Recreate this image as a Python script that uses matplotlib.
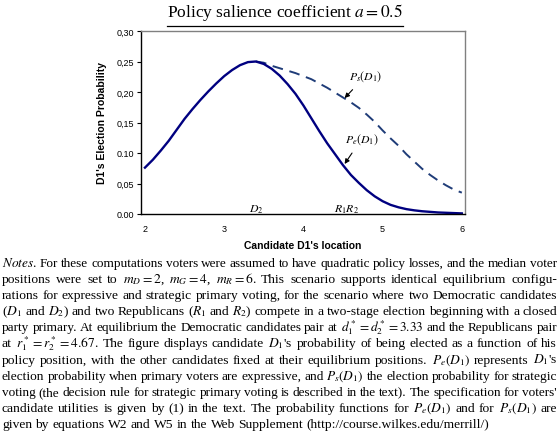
import numpy as np
import matplotlib
matplotlib.use("Agg")
import matplotlib.pyplot as plt
from matplotlib.lines import Line2D

plt.rcParams['mathtext.fontset'] = 'stix'

# candidate D1 location and election probabilities
loc = [2.0, 2.1, 2.2, 2.3, 2.4, 2.5, 2.6, 2.7, 2.8, 2.9, 3.0, 3.1, 3.2, 3.3, 3.4,
       3.5, 3.6, 3.7, 3.8, 3.9, 4.0, 4.1, 4.2, 4.3, 4.4, 4.5, 4.6, 4.7, 4.8, 4.9,
       5.0, 5.1, 5.2, 5.3, 5.4, 5.5, 5.6, 5.7, 5.8, 5.9, 6.0]
pe = [0.076, 0.089, 0.104, 0.120, 0.138, 0.156, 0.172, 0.187, 0.201, 0.214,
      0.226, 0.236, 0.244, 0.249, 0.250, 0.246, 0.238, 0.227, 0.213, 0.197,
      0.178, 0.157, 0.136, 0.116, 0.098, 0.080, 0.064, 0.051, 0.039, 0.029,
      0.021, 0.015, 0.011, 0.008, 0.006, 0.0045, 0.0035, 0.0025, 0.002, 0.0015, 0.001]
loc_s = [3.4, 3.5, 3.6, 3.7, 3.8, 3.9, 4.0, 4.1, 4.2, 4.3, 4.4, 4.5, 4.6, 4.7,
         4.8, 4.9, 5.0, 5.1, 5.2, 5.3, 5.4, 5.5, 5.6, 5.7, 5.8, 5.9, 6.0]
ps = [0.250, 0.248, 0.243, 0.239, 0.235, 0.231, 0.226, 0.221, 0.214, 0.207,
      0.199, 0.191, 0.183, 0.174, 0.163, 0.151, 0.137, 0.124, 0.112, 0.098,
      0.086, 0.074, 0.064, 0.055, 0.047, 0.040, 0.035]

xticks = [2, 3, 4, 5, 6]
yticks = [0.0, 0.05, 0.10, 0.15, 0.20, 0.25, 0.30]
ylabels = ['0.00', '0,05', '0.10', '0,15', '0,20', '0,25', '0,30']

notes = [
    r"$\mathit{Notes}$. For these computations voters were assumed to have quadratic policy losses, and the median voter",
    r"positions were set to $m_D=2$, $m_G=4$, $m_R=6$. This scenario supports identical equilibrium configu-",
    r"rations for expressive and strategic primary voting, for the scenario where two Democratic candidates",
    r"($D_1$ and $D_2$) and two Republicans ($R_1$ and $R_2$) compete in a two-stage election beginning with a closed",
    r"party primary. At equilibrium the Democratic candidates pair at $d_1^*=d_2^*=3.33$ and the Republicans pair",
    r"at $r_1^*=r_2^*=4.67$. The figure displays candidate $D_1$'s probability of being elected as a function of his",
    r"policy position, with the other candidates fixed at their equilibrium positions. $P_e(D_1)$ represents $D_1$'s",
    r"election probability when primary voters are expressive, and $P_s(D_1)$ the election probability for strategic",
    r"voting (the decision rule for strategic primary voting is described in the text). The specification for voters'",
    r"candidate utilities is given by (1) in the text. The probability functions for $P_e(D_1)$ and for $P_s(D_1)$ are",
    r"given by equations W2 and W5 in the Web Supplement (http://course.wilkes.edu/merrill/)",
]

W, H = 559, 435
fig = plt.figure(figsize=(W / 100, H / 100), dpi=100)
ax = fig.add_axes([141 / W, 1 - 215 / H, 324 / W, 183 / H])

ax.plot(loc_s, ps, color='#1f3c78', lw=1.4, dashes=(5.5, 3.5))
ax.plot(loc, pe, color='#000080', lw=1.7)

ax.set_xlim(1.95, 6.04)
ax.set_ylim(0, 0.30)
ax.set_xticks(xticks)
ax.set_xticklabels([str(t) for t in xticks])
ax.set_yticks(yticks)
ax.set_yticklabels(ylabels)
ax.tick_params(axis='x', length=0, pad=7, labelsize=6.5)
ax.tick_params(axis='y', length=3, width=0.8, pad=2, labelsize=6.5)
for lab in ax.get_xticklabels() + ax.get_yticklabels():
    lab.set_family('Liberation Sans')
for s in ['top', 'right']:
    ax.spines[s].set_color('#808080')
    ax.spines[s].set_linewidth(1.0)
for s in ['left', 'bottom']:
    ax.spines[s].set_color('black')
    ax.spines[s].set_linewidth(1.0)

ax.set_ylabel("D1's Election Probability", family='Liberation Sans',
              fontweight='bold', fontsize=7.5, labelpad=7)
ax.set_xlabel("Candidate D1's location", family='Liberation Sans',
              fontweight='bold', fontsize=7.5, labelpad=5)

ax.annotate(r"$P_s(D_1)$", xy=(4.52, 0.190), xytext=(4.79, 0.227),
            ha='center', va='center', fontsize=8.5,
            arrowprops=dict(arrowstyle='-|>', color='black', lw=0.8,
                            mutation_scale=7, shrinkA=4, shrinkB=0))
ax.annotate(r"$P_e(D_1)$", xy=(4.52, 0.082), xytext=(4.74, 0.124),
            ha='center', va='center', fontsize=8.5,
            arrowprops=dict(arrowstyle='-|>', color='black', lw=0.8,
                            mutation_scale=7, shrinkA=4, shrinkB=0))
ax.text(3.40, 0.009, r"$D_2$", ha='center', va='center', fontsize=8.5)
ax.text(4.55, 0.009, r"$R_1R_2$", ha='center', va='center', fontsize=8.5)

# title with underline
title = fig.text(285 / W, 1 - 17 / H, r"Policy salience coefficient $a=0.5$",
                 family='Liberation Serif', fontsize=12.5, ha='center', va='baseline')
renderer = fig.canvas.get_renderer()
bb = title.get_window_extent(renderer)
fig.add_artist(Line2D([bb.x0 / W, bb.x1 / W], [1 - 27 / H, 1 - 27 / H],
                      color='black', lw=0.9))

# justified notes paragraph
left, right = 2.0, 557.0


def space_width(size):
    a = fig.text(0, 0, "a b", family='Liberation Serif', fontsize=size)
    b = fig.text(0, 0, "ab", family='Liberation Serif', fontsize=size)
    w = a.get_window_extent(renderer).width - b.get_window_extent(renderer).width
    a.remove()
    b.remove()
    return w


for i, line in enumerate(notes):
    yb = 1 - (267 + 16.1 * i) / H
    words = line.split(' ')
    size = 9.7
    while True:
        txts = [fig.text(0, yb, w, family='Liberation Serif', fontsize=size,
                         ha='left', va='baseline') for w in words]
        widths = [t.get_window_extent(renderer).width for t in txts]
        sw = space_width(size)
        if sum(widths) + 0.8 * sw * (len(words) - 1) <= right - left or size < 8.5:
            break
        for t in txts:
            t.remove()
        size -= 0.1
    if i < len(notes) - 1:
        gap = (right - left - sum(widths)) / (len(words) - 1)
    else:
        gap = sw
    x = left
    for t, w in zip(txts, widths):
        t.set_x(x / W)
        x += w + gap

fig.savefig('out.png', dpi=100)
